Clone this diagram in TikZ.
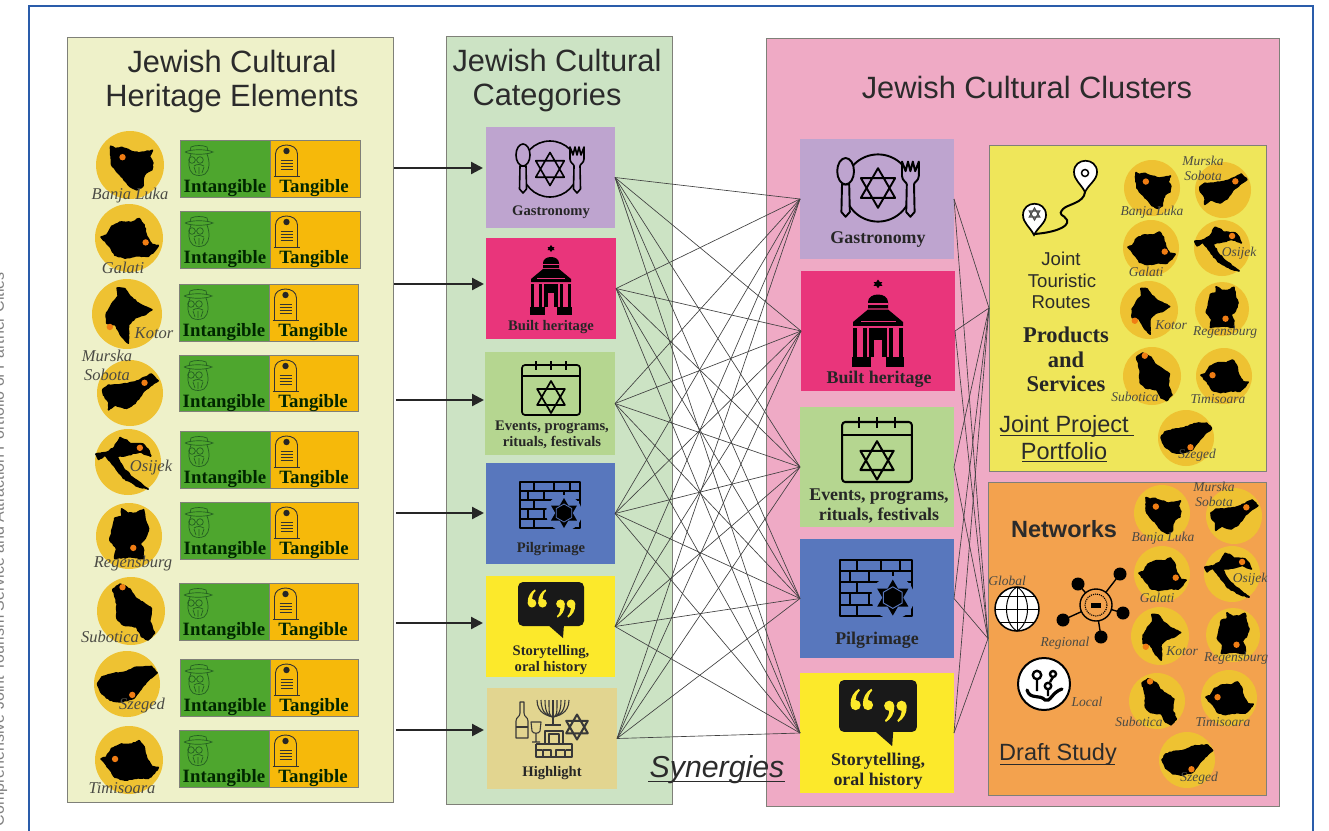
\documentclass[tikz,border=0pt]{standalone}
\usepackage{fontspec}
\setmainfont{Liberation Sans}
\newfontfamily\srf{Liberation Serif}
\usetikzlibrary{arrows.meta,decorations.pathmorphing,calc}
\definecolor{framebl}{HTML}{2A5CAA}
\definecolor{edgegr}{HTML}{7F8078}
\definecolor{panA}{HTML}{EEF1C9}
\definecolor{panB}{HTML}{CCE3C4}
\definecolor{panC}{HTML}{EFAAC5}
\definecolor{panY}{HTML}{EFE65A}
\definecolor{panO}{HTML}{F3A24E}
\definecolor{cGas}{HTML}{BEA4CF}
\definecolor{cBui}{HTML}{E9357B}
\definecolor{cEve}{HTML}{B5D690}
\definecolor{cPil}{HTML}{5877BD}
\definecolor{cSto}{HTML}{FCE92B}
\definecolor{cHig}{HTML}{E2D590}
\definecolor{barG}{HTML}{4EA62E}
\definecolor{barA}{HTML}{F6B90A}
\definecolor{gold}{HTML}{EEC232}
\definecolor{dotO}{HTML}{F07D14}
\definecolor{ink}{HTML}{2B2B2B}
\definecolor{cityink}{HTML}{4A4A44}
\definecolor{rabbi}{HTML}{245E22}
\tikzset{
  box/.style={inner sep=0pt,outer sep=0pt},
  panel/.style={box,draw=edgegr,line width=1pt},
  titlet/.style={text=ink,inner sep=0pt,anchor=base,font=\fontsize{30.8}{34}\selectfont},
  bartext/.style={inner sep=0pt,text=black!85!green,font=\srf\bfseries\fontsize{18.8}{20}\selectfont},
  catlbl/.style={inner sep=0pt,text=black!85,align=center,font=\srf\bfseries\fontsize{14.6}{16.5}\selectfont},
  catbig/.style={inner sep=0pt,text=black!85,align=center,font=\srf\bfseries\fontsize{17.9}{20}\selectfont},
  citylbl/.style={inner sep=0pt,text=cityink,font=\srf\itshape\fontsize{16.5}{16.5}\selectfont},
  citysm/.style={inner sep=0pt,text=cityink,font=\srf\itshape\fontsize{13.5}{14}\selectfont},
  sans/.style={inner sep=0pt,text=ink,font=\fontsize{18.6}{20}\selectfont},
  undl/.style={inner sep=0pt,text=ink,font=\fontsize{23.5}{24}\selectfont},
  prod/.style={inner sep=0pt,text=black!85,font=\srf\bfseries\fontsize{22.5}{24}\selectfont},
  syn/.style={draw=black!75,line width=.65pt},
  feed/.style={draw=black!85,line width=2.3pt,-{Triangle[length=12pt,width=12pt]}},
  ulin/.style={draw=ink,line width=1pt},
  ico/.style={draw=black,line width=1.7pt,line join=round}
}
\newcommand{\rectNode}[6]{\node[#6,minimum width={#4pt-#2pt},minimum height={#5pt-#3pt}] (#1) at ({(#2+#4)/2},{(#3+#5)/2}) {};}
\newcommand{\shpBosnia}{(-.57,-.55)--(-.44,-.48)--(-.25,-.52)--(0,-.42)--(.25,-.35)--(.44,-.38)--(.66,-.43)--(.57,-.25)--(.67,-.06)--(.64,.14)--(.46,.24)--(.39,.38)--(.37,.63)--(.2,.73)--(0,.63)--(-.2,.38)--(-.39,.19)--(-.54,-.01)--(-.57,-.3)--cycle}
\newcommand{\shpRomania}{(-.82,-.03)--(-.66,-.08)--(-.51,-.34)--(-.22,-.47)--(.08,-.46)--(.3,-.57)--(.44,-.39)--(.52,-.05)--(.67,.2)--(.86,.22)--(.74,.39)--(.57,.54)--(.27,.52)--(-.12,.59)--(-.41,.51)--(-.51,.34)--(-.66,.15)--cycle}
\newcommand{\shpMonte}{(-.28,-.74)--(-.06,-.72)--(.09,-.5)--(.32,-.31)--(.71,-.12)--(.51,.02)--(.23,.11)--(.04,.3)--(.04,.83)--(-.15,.64)--(-.34,.3)--(-.58,.26)--(-.58,-.03)--(-.44,-.27)--(-.25,-.5)--cycle}
\newcommand{\shpSlov}{(-.82,-.11)--(-.65,-.24)--(-.35,-.24)--(-.05,-.29)--(.25,-.37)--(.65,-.57)--(.85,-.37)--(.65,-.24)--(.4,-.04)--(.15,.31)--(-.1,.46)--(-.45,.36)--(-.65,.51)--(-.65,.26)--(-.8,.06)--cycle}
\newcommand{\shpCroat}{(-.97,-.24)--(-.69,-.28)--(-.44,-.41)--(-.24,-.74)--(-.04,-.66)--(.06,-.56)--(.46,-.54)--(.61,-.38)--(.69,-.18)--(.36,-.31)--(-.04,-.21)--(-.34,-.16)--(-.14,.19)--(.16,.49)--(.61,.82)--(.31,.74)--(-.14,.49)--(-.49,.04)--(-.69,-.21)--(-.89,-.08)--cycle}
\newcommand{\shpGerm}{(-.22,-.82)--(-.02,-.69)--(.23,-.69)--(.44,-.8)--(.49,-.49)--(.59,-.23)--(.49,.07)--(.34,.22)--(.44,.43)--(.44,.68)--(.03,.63)--(-.43,.68)--(-.38,.38)--(-.58,.12)--(-.48,-.29)--(-.43,-.54)--(-.22,-.59)--cycle}
\newcommand{\shpSerb}{(-.53,-.64)--(-.32,-.79)--(-.03,-.64)--(.12,-.4)--(.4,-.21)--(.6,-.07)--(.55,.32)--(.69,.65)--(.5,.85)--(.31,.75)--(.16,.46)--(-.22,.41)--(-.41,.22)--(-.41,-.21)--(-.46,-.4)--cycle}
\newcommand{\shpHung}{(-.89,-.01)--(-.76,-.21)--(-.41,-.31)--(-.06,-.36)--(.29,-.51)--(.74,-.53)--(.91,-.34)--(.64,-.11)--(.39,.19)--(.19,.44)--(-.21,.54)--(-.51,.49)--(-.76,.29)--cycle}
% x y r shape dotx doty
\newcommand{\cityMap}[6]{%
  \fill[gold] (#1,#2) circle[radius=#3];
  \begin{scope}[shift={(#1,#2)},x=#3pt,y=-#3pt]
    \fill[black] #4;
    \draw[black,line width=1.7pt,line join=round,decorate,decoration={random steps,segment length=2.2pt,amplitude=.5pt}] #4;
    \fill[dotO] (#5,#6) circle[radius=3.2pt];
  \end{scope}}
\newcommand{\starD}[4]{\begin{scope}[shift={(#1,#2)}]\draw[#4] (90:#3)--(210:#3)--(330:#3)--cycle (270:#3)--(30:#3)--(150:#3)--cycle;\end{scope}}
\newcommand{\iconPlate}[4]{\begin{scope}[shift={(#1,#2)},x=#3pt,y=-#3pt,ico/.append style={line width=#3*1.6pt}]
  \draw[ico] (0,0) circle[radius=28];
  \draw[ico,fill=#4] (-30,-3)--(-30.5,20)--(-27,24)--(-23.5,20)--(-24,-3)--cycle;
  \draw[ico,fill=#4] (-27,-14) ellipse[x radius=7,y radius=11];
  \draw[ico,fill=#4] (20,-22)--(20,-10)..controls (20,-6) and (24,-5)..(24,-3)--(23.5,20)--(27,24)--(30.5,20)--(30,-3)..controls (30,-5) and (34,-6)..(34,-10)--(34,-22)--(31,-14)--(29,-22)--(27,-14)--(25,-22)--(23,-14)--cycle;
  \starD{0}{0}{16.5}{ico}
\end{scope}}
\newcommand{\iconBuilt}[4]{\begin{scope}[shift={(#1,#2)},x=#3pt,y=-#3pt]
  \fill[black] (0,-33) ++(-3.5,0)--++(7,0)--++(-3.5,-5)--cycle;
  \fill[black] (0,-33) ++(-3.5,-3)--++(7,0)--++(-3.5,5)--cycle;
  \fill[black] (-8,-15)--(-8,-20)..controls (-8,-28) and (8,-28)..(8,-20)--(8,-15)--cycle;
  \fill[#4] (-8,-19) rectangle (8,-18);
  \fill[black] (-8,-14)--(8,-14)--(20,-4)--(20,-1)--(-20,-1)--(-20,-4)--cycle;
  \fill[#4] (-14,-5) rectangle (14,-4);
  \foreach \cx in {-20,-12,9,17} \fill[black] (\cx,1) rectangle (\cx+3,24);
  \fill[black] (-7,1) rectangle (7,24);
  \fill[#4] (-3,10) rectangle (3,24);
  \fill[black] (-21,24) rectangle (-6,32);
  \fill[black] (6,24) rectangle (21,32);
\end{scope}}
\newcommand{\iconCal}[4]{\begin{scope}[shift={(#1,#2)},x=#3pt,y=-#3pt,ico/.append style={line width=#3*1.7pt}]
  \draw[ico,rounded corners=3pt] (-29,-25) rectangle (29,25);
  \draw[ico] (-29,-14)--(29,-14);
  \foreach \cx in {-15,0,15} \draw[ico] (\cx,-29)--(\cx,-20);
  \starD{0}{7}{16}{ico}
\end{scope}}
\newcommand{\iconWall}[4]{\begin{scope}[shift={(#1,#2)},x=#3pt,y=-#3pt,ico/.append style={line width=#3*1.6pt}]
  \draw[ico] (-30,-23) rectangle (30,23);
  \foreach \yy in {-14,-5,4,14} \draw[ico] (-30,\yy)--(30,\yy);
  \foreach \xx in {-16,4,20} \draw[ico] (\xx,-23)--(\xx,-14);
  \foreach \xx in {-22,-6,14} \draw[ico] (\xx,-14)--(\xx,-5);
  \foreach \xx in {-16,4,20} \draw[ico] (\xx,-5)--(\xx,4);
  \foreach \xx in {-22,-6} \draw[ico] (\xx,4)--(\xx,14);
  \foreach \xx in {-16} \draw[ico] (\xx,14)--(\xx,23);
  \fill[#4] (14,8) circle[radius=18];
  \begin{scope}[shift={(14,8)}]
    \fill[black] (90:15)--(210:15)--(330:15)--cycle (270:15)--(30:15)--(150:15)--cycle;
    \draw[#4,line width=#3*.8pt] (30:9)--(90:9)--(150:9)--(210:9)--(270:9)--(330:9)--cycle;
  \end{scope}
\end{scope}}
\newcommand{\qmark}[3]{\begin{scope}[shift={(#1,#2)},rotate=#3,scale=1.2]
  \fill (-.4,3.5) circle[radius=3.6] (-4,3)..controls (-4.2,-2) and (-1.5,-6)..(2,-8)--(2.6,-6.8)..controls (.4,-4.8) and (-.4,-2)..(-.4,0)--cycle;
\end{scope}}
\newcommand{\iconBubble}[4]{\begin{scope}[shift={(#1,#2)},x=#3pt,y=-#3pt]
  \fill[black!90,rounded corners=5pt] (-33,-22) rectangle (33,22);
  \fill[black!90] (-4,20)--(12,34)--(13,20)--cycle;
  \begin{scope}[#4]
    \qmark{-18.5}{-5}{0}\qmark{-8}{-5}{0}
    \qmark{9}{4}{180}\qmark{19.5}{4}{180}
  \end{scope}
\end{scope}}
\newcommand{\iconHigh}[3]{\begin{scope}[shift={(#1,#2)},x=#3pt,y=-#3pt,ico/.append style={draw=black!78,line width=#3*1.1pt}]
  \draw[ico] (-31,-28)--(-27,-28)--(-27,-17)..controls (-27,-13) and (-23,-13)..(-23,-9)--(-23,8)--(-35,8)--(-35,-9)..controls (-35,-13) and (-31,-13)..(-31,-17)--cycle;
  \draw[ico] (-35,-3)--(-23,-3);
  \foreach \i in {4,8,12,16} {\draw[ico] (2-\i,-30)..controls (2-\i,-16) and (-2,-14)..(2,-13);\draw[ico] (2+\i,-30)..controls (2+\i,-16) and (6,-14)..(2,-13);}
  \draw[ico,line width=#3*1.5pt] (2,-30)--(2,-6) (-6,-5)--(10,-5);
  \draw[ico] (-20,-8)--(-10,-8)--(-11,1)..controls (-12,4) and (-18,4)..(-19,1)--cycle (-15,3)--(-15,12) (-19,12)--(-11,12);
  \starD{26}{-3}{12.5}{ico,line width=#3*2pt}
  \draw[ico] (-6,1) rectangle (12,14) (-2,4) rectangle (8,14);
  \draw[ico] (-15,14)--(-15,27)--(21,27)--(21,14)--(12,14) (-15,14)--(-6,14) (-15,20)--(-9,20) (21,20)--(15,20) (-8,27)--(-8,20)--(0,20)--(0,27) (5,27)--(5,20)--(14,20)--(14,27);
\end{scope}}
\newcommand{\iconRabbi}[2]{\begin{scope}[shift={(#1,#2)},draw=rabbi,line width=.7pt]
  \draw (-14,0) .. controls (-8,-3) and (8,-3) .. (14,0) .. controls (8,3) and (-8,3) .. (-14,0);
  \draw (-9,-1)--(-8,-5)..controls (-4,-7) and (4,-7)..(8,-5)--(9,-1);
  \draw (-8,2)..controls (-11,10) and (-11,18)..(-6,22)..controls (-2,24) and (2,24)..(6,22)..controls (11,18) and (11,10)..(8,2);
  \draw (-7,8) circle[radius=3.3] (1,8) circle[radius=3.3] (-3.7,8)--(-2.3,8) (-5,14)..controls (-2,12) and (1,12)..(5,14) (-5,15)--(-3,21) (0,15)--(0,22) (5,15)--(3,21);
\end{scope}}
\newcommand{\iconTomb}[2]{\begin{scope}[shift={(#1,#2)},draw=black!80,line width=.9pt]
  \draw (-11,31)--(-11,9)..controls (-11,-3) and (11,-3)..(11,9)--(11,31);
  \draw[line width=1.1pt] (-13,31.5)--(13,31.5);
  \fill[black!85] (0,6) circle[radius=3.2];
  \foreach \yy in {15,18,21,24} \draw[line width=1pt] (-6,\yy)--(6,\yy);
\end{scope}}
% id x1 y1 xm x2 y2
\newcommand{\elemBar}[6]{%
  \rectNode{g#1}{#2}{#3}{#4}{#6}{panel,fill=barG}
  \rectNode{a#1}{#4}{#3}{#5}{#6}{panel,fill=barA}
  \iconRabbi{#2+19}{#3+12}
  \iconTomb{#4+16.5}{#3+5}
  \node[bartext] (gt#1) at ({#2+45},{#3+48}) {Intangible};
  \node[bartext] (at#1) at ({#4+44},{#3+48}) {Tangible};}
\begin{document}
\begin{tikzpicture}[x=1pt,y=-1pt]
\useasboundingbox (0,0) rectangle (1329,830);
\fill[white] (0,0) rectangle (1329,830);
\node[rotate=90,anchor=base east,inner sep=0pt,text=black!50,font=\fontsize{16}{16}\selectfont] (side) at (4,272) {Comprehensive Joint Tourism Service and Attraction Portfolio of Partner Cities};
\draw[framebl,line width=2.2pt] (29,832)--(29,6)--(1313,6)--(1313,832);
% panels
\rectNode{pA}{67}{37}{393}{802}{panel,fill=panA}
\rectNode{pB}{446}{36}{672}{804}{panel,fill=panB}
\rectNode{pC}{766}{38}{1279}{806}{panel,fill=panC}
\rectNode{yp}{989}{145}{1266}{471}{panel,fill=panY}
\rectNode{op}{988}{482}{1266}{795}{panel,fill=panO}
% titles
\node[titlet] (t1) at (232,72) {Jewish Cultural};
\node[titlet] (t2) at (232,106) {Heritage Elements};
\node[titlet] (t3) at (557,71) {Jewish Cultural};
\node[titlet] (t4) at (547,105) {Categories};
\node[titlet] (t5) at (1027,98) {Jewish Cultural Clusters};
% category nodes
\rectNode{m1}{486}{127}{615}{228}{box,fill=cGas}
\rectNode{m2}{486}{238}{616}{339}{box,fill=cBui}
\rectNode{m3}{485}{352}{615}{455}{box,fill=cEve}
\rectNode{m4}{486}{463}{615}{564}{box,fill=cPil}
\rectNode{m5}{486}{576}{615}{677}{box,fill=cSto}
\rectNode{m6}{487}{688}{617}{789}{box,fill=cHig}
\rectNode{r1}{800}{139}{954}{259}{box,fill=cGas}
\rectNode{r2}{801}{271}{955}{391}{box,fill=cBui}
\rectNode{r3}{800}{407}{954}{527}{box,fill=cEve}
\rectNode{r4}{800}{539}{954}{658}{box,fill=cPil}
\rectNode{r5}{800}{673}{954}{793}{box,fill=cSto}
% synergy lines
\foreach \i in {1,...,6} \foreach \j in {1,...,5} \draw[syn] (m\i.east)--(r\j.west);
\foreach \j in {1,...,5} {\draw[syn] (r\j.east)--(yp.west);\draw[syn] (r\j.east)--(op.west);}
% feed arrows
\foreach \n/\xs/\yy/\xe in {1/394/168/483,2/394/284/484,3/396/400/484,4/396/513/484,5/396/623/483,6/396/730/484}{
  \coordinate (s\n) at (\xs,\yy);
  \coordinate (e\n) at (\xe,\yy);
  \draw[feed] (s\n)--(e\n);
}
% element bars
\elemBar{1}{180}{140}{270}{360}{197}
\elemBar{2}{180}{211}{270}{360}{268}
\elemBar{3}{179}{284}{269}{358}{341}
\elemBar{4}{179}{355}{269}{358}{411}
\elemBar{5}{180}{431}{270}{358}{488}
\elemBar{6}{180}{502}{270}{358}{559}
\elemBar{7}{179}{583}{269}{358}{640}
\elemBar{8}{180}{659}{270}{358}{716}
\elemBar{9}{179}{730}{269}{358}{787}
% left maps
\cityMap{130}{165}{34}{\shpBosnia}{-.22}{-.23}
\cityMap{129}{238}{34}{\shpRomania}{.49}{.13}
\cityMap{127}{314}{35}{\shpMonte}{-.49}{.37}
\cityMap{130}{393}{33}{\shpSlov}{.44}{-.31}
\cityMap{128}{462}{33}{\shpCroat}{.36}{-.43}
\cityMap{129}{536}{33}{\shpGerm}{.13}{.36}
\cityMap{131}{611}{34}{\shpSerb}{-.25}{-.7}
\cityMap{127}{684}{33}{\shpHung}{.16}{.33}
\cityMap{129}{760}{34}{\shpRomania}{-.41}{-.03}
\node[citylbl] (l1) at (130,196) {Banja Luka};
\node[citylbl] (l2) at (123,268) {Galati};
\node[citylbl] (l3) at (154,333) {Kotor};
\node[citylbl] (l4a) at (107,356) {Murska};
\node[citylbl] (l4b) at (107,375) {Sobota};
\node[citylbl] (l5) at (151,468) {Osijek};
\node[citylbl] (l6) at (133,564) {Regensburg};
\node[citylbl] (l7) at (110,637) {Subotica};
\node[citylbl] (l8) at (142,706) {Szeged};
\node[citylbl] (l9) at (122,788) {Timisoara};
% category icons + labels
\iconPlate{550}{169}{1}{cGas}
\iconBuilt{551}{283}{1}{cBui}
\iconCal{551}{390}{1}{cEve}
\iconWall{550}{505}{1}{cPil}
\iconBubble{551}{604}{1}{cSto}
\iconHigh{551}{730}{1}
\node[catlbl] (ml1) at (551,212) {Gastronomy};
\node[catlbl] (ml2) at (551,327) {Built heritage};
\node[catlbl] (ml3) at (552,435) {Events, programs,\\rituals, festivals};
\node[catlbl] (ml4) at (551,549) {Pilgrimage};
\node[catlbl] (ml5) at (551,660) {Storytelling,\\oral history};
\node[catlbl] (ml6) at (552,773) {Highlight};
\iconPlate{878}{188}{1.2}{cGas}
\iconBuilt{878}{327}{1.25}{cBui}
\iconCal{877}{452}{1.2}{cEve}
\iconWall{876}{588}{1.2}{cPil}
\iconBubble{878}{706}{1.18}{cSto}
\node[catbig] (rl1) at (878,240) {Gastronomy};
\node[catbig] (rl2) at (879,379) {Built heritage};
\node[catbig] (rl3) at (879,506) {Events, programs,\\rituals, festivals};
\node[catbig] (rl4) at (877,640) {Pilgrimage};
\node[catbig] (rl5) at (878,771) {Storytelling,\\oral history};
% yellow panel
\draw[black,line width=2pt,line cap=round] (1034,234)..controls (1050,233) and (1070,228)..(1067,220)..controls (1064,214) and (1057,216)..(1063,209)..controls (1068,204) and (1084,203)..(1085,192);
\draw[black,fill=white,line width=1.7pt] (1034,235)..controls (1030,227) and (1023,223)..(1023,215)..controls (1023,200) and (1046,200)..(1046,215)..controls (1046,223) and (1038,227)..(1034,235)--cycle;
\starD{1034.5}{214}{6}{black!70,line width=1.2pt}
\draw[black,fill=white,line width=1.7pt] (1085,192)..controls (1081,184) and (1074,180)..(1074,172)..controls (1074,157) and (1097,157)..(1097,172)..controls (1097,180) and (1089,184)..(1085,192)--cycle;
\draw[black,line width=1.5pt] (1085,173) circle[radius=3.5];
\node[sans] (yt1) at (1061,259) {Joint};
\node[sans] (yt2) at (1062,281) {Touristic};
\node[sans] (yt3) at (1061,302) {Routes};
\node[prod] (yb1) at (1066,335) {Products};
\node[prod] (yb2) at (1066,360) {and};
\node[prod] (yb3) at (1066,384) {Services};
\node[undl] (yu1) at (1064,426) {Joint Project};
\node[undl] (yu2) at (1064,451) {Portfolio};
\draw[ulin] (1000,435)--(1134,435);
\draw[ulin] (1022,461)--(1107,461);
\cityMap{1152}{188}{28}{\shpBosnia}{-.22}{-.23}
\cityMap{1223}{190}{28}{\shpSlov}{.44}{-.31}
\cityMap{1151}{248}{28}{\shpRomania}{.49}{.13}
\cityMap{1222}{248}{28}{\shpCroat}{.36}{-.43}
\cityMap{1149}{310}{29}{\shpMonte}{-.49}{.37}
\cityMap{1222}{309}{27}{\shpGerm}{.13}{.36}
\cityMap{1152}{376}{29}{\shpSerb}{-.25}{-.7}
\cityMap{1224}{376}{28}{\shpRomania}{-.41}{-.03}
\cityMap{1186}{438}{28}{\shpHung}{.16}{.33}
\node[citysm] (y1) at (1152,212) {Banja Luka};
\node[citysm] (y2a) at (1203,161) {Murska};
\node[citysm] (y2b) at (1203,176) {Sobota};
\node[citysm] (y3) at (1146,272) {Galati};
\node[citysm] (y4) at (1239,253) {Osijek};
\node[citysm] (y5) at (1171,325) {Kotor};
\node[citysm] (y6) at (1225,332) {Regensburg};
\node[citysm] (y7) at (1135,397) {Subotica};
\node[citysm] (y8) at (1218,399) {Timisoara};
\node[citysm] (y9) at (1197,455) {Szeged};
% orange panel
\node[inner sep=0pt,text=ink,font=\bfseries\fontsize{23.5}{24}\selectfont] (on) at (1064,529) {Networks};
\node[citysm] (og) at (1007,581) {Global};
\node[citysm] (ore) at (1065,643) {Regional};
\node[citysm] (olo) at (1087,702) {Local};
\draw[black,fill=white,line width=1.5pt] (1017,609) circle[radius=22];
\begin{scope}[draw=black,line width=1pt]
  \draw (1017,587)--(1017,631) (995,609)--(1039,609) (999,596)--(1035,596) (999,622)--(1035,622);
  \draw (1017,587)..controls (1003,595) and (1003,623)..(1017,631);
  \draw (1017,587)..controls (1031,595) and (1031,623)..(1017,631);
\end{scope}
\fill[black] (1120,574) circle[radius=6.5] (1078,584) circle[radius=6.5] (1123,613) circle[radius=6.5] (1063,620) circle[radius=6.5] (1101,637) circle[radius=6.5];
\draw[black,line width=1.4pt] (1096,605)--(1120,574) (1096,605)--(1078,584) (1096,605)--(1123,613) (1096,605)--(1063,620) (1096,605)--(1101,637);
\draw[black,fill=panO,line width=1.4pt] (1096,605) circle[radius=16];
\draw[black,line width=1.1pt,densely dotted] (1096,605) circle[radius=11];
\fill[black] (1091,602.5) rectangle (1101,607.5);
\draw[black,fill=white,line width=2pt] (1044,684) circle[radius=26];
\begin{scope}[black]
  \draw[line width=2.4pt] (1037,675) circle[radius=4.2] (1053,674) circle[radius=3] (1048,686) circle[radius=3.2];
  \draw[line width=2.4pt] (1037,679)--(1037,691) (1053,677)--(1050,682) (1048,689)--(1048,696);
  \draw[line width=3.2pt,line cap=round] (1027,690)..controls (1030,700) and (1040,694)..(1045,700)..controls (1050,703) and (1052,692)..(1062,689);
\end{scope}
\node[undl] (ods) at (1058,754) {Draft Study};
\draw[ulin] (1000,764)--(1115,764);
\cityMap{1162}{513}{28}{\shpBosnia}{-.22}{-.23}
\cityMap{1234}{516}{28}{\shpSlov}{.44}{-.31}
\cityMap{1162}{574}{28}{\shpRomania}{.49}{.13}
\cityMap{1232}{574}{28}{\shpCroat}{.36}{-.43}
\cityMap{1160}{636}{29}{\shpMonte}{-.49}{.37}
\cityMap{1233}{635}{27}{\shpGerm}{.13}{.36}
\cityMap{1157}{701}{28}{\shpSerb}{-.25}{-.7}
\cityMap{1229}{698}{28}{\shpRomania}{-.41}{-.03}
\cityMap{1187}{760}{28}{\shpHung}{.16}{.33}
\node[citysm] (o1) at (1163,538) {Banja Luka};
\node[citysm] (o2a) at (1214,487) {Murska};
\node[citysm] (o2b) at (1214,502) {Sobota};
\node[citysm] (o3) at (1157,598) {Galati};
\node[citysm] (o4) at (1250,579) {Osijek};
\node[citysm] (o5) at (1182,651) {Kotor};
\node[citysm] (o6) at (1236,658) {Regensburg};
\node[citysm] (o7) at (1139,722) {Subotica};
\node[citysm] (o8) at (1223,722) {Timisoara};
\node[citysm] (o9) at (1199,778) {Szeged};
% synergies
\node[inner sep=0pt,anchor=base,text=ink,font=\itshape\fontsize{30.3}{32}\selectfont] (syn) at (717,777) {Synergies};
\draw[ulin] (648,781)--(785,781);
\end{tikzpicture}
\end{document}
